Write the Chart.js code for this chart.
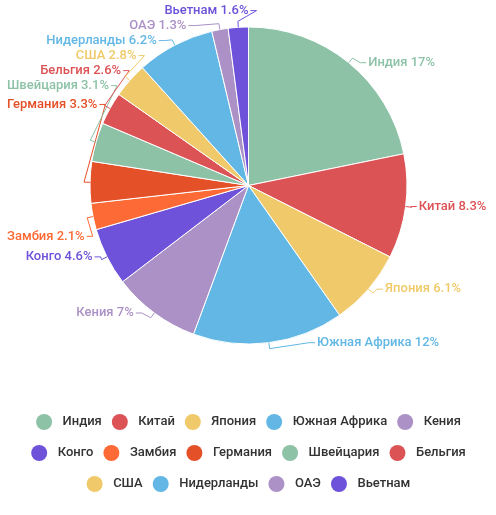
<!DOCTYPE html>
<html>
<head>
<meta charset="utf-8">
<script src="https://cdn.jsdelivr.net/npm/chart.js@4"></script>
<style>
    html, body { margin: 0; padding: 0; background: #fff; }
    #wrap { width: 496px; height: 515px; }
</style>
</head>
<body>
<div id="wrap"><canvas id="grafico"></canvas></div>
<script>
// Dados do gráfico
const countries = ['Индия', 'Китай', 'Япония', 'Южная Африка', 'Кения', 'Конго', 'Замбия',
    'Германия', 'Швейцария', 'Бельгия', 'США', 'Нидерланды', 'ОАЭ', 'Вьетнам'];
const values = [17, 8.3, 6.1, 12, 7, 4.6, 2.1, 3.3, 3.1, 2.6, 2.8, 6.2, 1.3, 1.6];
const colors = ['#8dc2a7', '#dc5356', '#f0ca6a', '#62b7e5', '#ab91c5', '#6e52da', '#fe6a35',
    '#e45028', '#8dc2a7', '#dc5356', '#f0ca6a', '#62b7e5', '#ab91c5', '#6e52da'];

const FONT = 'Roboto';

// Rótulos externos com linhas de ligação
const outLabels = {
    id: 'outLabels',
    afterDatasetsDraw(chart) {
        const ctx = chart.ctx;
        const arcs = chart.getDatasetMeta(0).data;
        const W = chart.width;
        ctx.save();
        ctx.font = '500 13px ' + FONT;
        const items = arcs.map((arc, i) => {
            const mid = (arc.startAngle + arc.endAngle) / 2;
            const r = arc.outerRadius;
            const text = countries[i] + ' ' + values[i] + '%';
            return {
                i, mid, r, cx: arc.x, cy: arc.y, text,
                w: ctx.measureText(text).width,
                left: Math.cos(mid) < 0,
                natural: Math.sin(mid),
                dy: Math.sin(mid) * r
            };
        });
        const R = items[0].r + 13;
        const margin = 7;

        // empurra para cima/baixo até caber na largura
        items.forEach(it => {
            const room = it.left ? it.cx - it.w - margin : W - it.cx - it.w - margin;
            if (room > 0 && room < R) {
                const minDy = Math.sqrt(R * R - room * room);
                if (Math.abs(it.dy) < minDy) it.dy = it.dy < 0 ? -minDy : minDy;
            }
        });

        // evitar sobreposição em cada lado
        const gap = 15;
        [true, false].forEach(side => {
            const s = items.filter(it => it.left === side).sort((a, b) => a.natural - b.natural);
            const up = s.filter(it => it.natural < 0);
            const down = s.filter(it => it.natural >= 0);
            for (let k = up.length - 2; k >= 0; k--) {
                up[k].dy = Math.min(up[k].dy, up[k + 1].dy - gap);
            }
            if (up.length && down.length) {
                down[0].dy = Math.max(down[0].dy, up[up.length - 1].dy + gap);
            }
            for (let k = 1; k < down.length; k++) {
                down[k].dy = Math.max(down[k].dy, down[k - 1].dy + gap);
            }
        });

        items.forEach(it => {
            const col = colors[it.i];
            const y = it.cy + it.dy;
            const off = Math.sqrt(Math.max(0, R * R - it.dy * it.dy));
            const dir = it.left ? -1 : 1;
            const edge = it.cx + dir * off;
            ctx.strokeStyle = col;
            ctx.lineWidth = 1;
            ctx.beginPath();
            ctx.moveTo(it.cx + Math.cos(it.mid) * it.r, it.cy + Math.sin(it.mid) * it.r);
            ctx.lineTo(it.cx + Math.cos(it.mid) * (it.r + 6), it.cy + Math.sin(it.mid) * (it.r + 6));
            ctx.lineTo(edge - dir * 8, y);
            ctx.lineTo(edge - dir * 2, y);
            ctx.stroke();
            ctx.fillStyle = col;
            ctx.textAlign = it.left ? 'right' : 'left';
            ctx.textBaseline = 'middle';
            ctx.fillText(it.text, edge, y);
        });
        ctx.restore();
    }
};

// Bolinhas da legenda
const legendDots = {
    id: 'legendDots',
    afterDraw(chart) {
        const ctx = chart.ctx;
        ctx.save();
        chart.legend.legendHitBoxes.forEach((hb, i) => {
            ctx.beginPath();
            ctx.arc(hb.left + 8, hb.top + hb.height / 2, 8, 0, Math.PI * 2);
            ctx.fillStyle = colors[i];
            ctx.fill();
        });
        ctx.restore();
    }
};

new Chart(document.getElementById('grafico'), {
    type: 'pie',
    data: {
        labels: countries,
        datasets: [{
            data: values,
            backgroundColor: colors,
            borderColor: '#fff',
            borderWidth: 1
        }]
    },
    options: {
        responsive: true,
        maintainAspectRatio: false,
        animation: false,
        layout: { padding: { top: 26.5, bottom: 10.5, left: 1, right: 0 } },
        plugins: {
            tooltip: { enabled: false },
            legend: {
                position: 'bottom',
                title: { display: true, text: '', padding: { top: 47, bottom: 0 }, font: { size: 10, lineHeight: 1 } },
                labels: {
                    boxWidth: 20,
                    boxHeight: 21,
                    padding: 10,
                    color: '#333',
                    font: { family: FONT, size: 13, weight: '500' },
                    generateLabels: () => countries.map((c, i) => ({
                        text: c,
                        fillStyle: 'rgba(0,0,0,0)',
                        strokeStyle: 'rgba(0,0,0,0)',
                        lineWidth: 0,
                        fontColor: '#333',
                        hidden: false,
                        index: i
                    }))
                }
            }
        }
    },
    plugins: [outLabels, legendDots]
});
</script>
</body>
</html>
